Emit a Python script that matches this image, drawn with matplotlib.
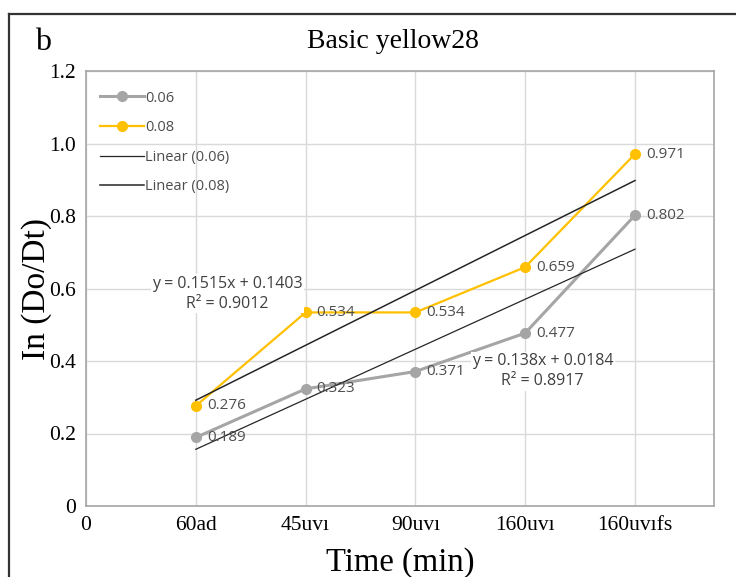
import matplotlib.pyplot as plt
from matplotlib.lines import Line2D

# data
categories = ['0', '60ad', '45uvı', '90uvı', '160uvı', '160uvıfs']
x_pos = [1, 2, 3, 4, 5]
s006 = [0.189, 0.323, 0.371, 0.477, 0.802]
s008 = [0.276, 0.534, 0.534, 0.659, 0.971]
fit006 = (0.138, 0.0184, 0.8917)
fit008 = (0.1515, 0.1403, 0.9012)

serif = 'Liberation Serif'
sans = 'Open Sans'
gray = '#A5A5A5'
orange = '#FFC000'
lbl = '#4D4D4D'

fig = plt.figure(figsize=(7.36, 5.77), dpi=100)
ax = fig.add_axes([86 / 736, 71 / 577, 628 / 736, 435 / 577])

ax.plot(x_pos, s006, color=gray, lw=2.2, marker='o', ms=7, label='0.06', zorder=3)
ax.plot(x_pos, s008, color=orange, lw=1.6, marker='o', ms=7, label='0.08', zorder=3)

x_fit = [x_pos[0], x_pos[-1]]
ax.plot(x_fit, [fit006[0] * x + fit006[1] for x in x_fit], color='#262626', lw=0.9,
        label='Linear (0.06)', zorder=4)
ax.plot(x_fit, [fit008[0] * x + fit008[1] for x in x_fit], color='#262626', lw=1.1,
        label='Linear (0.08)', zorder=4)

# data labels
for xs, ys in [(x_pos, s006), (x_pos, s008)]:
    for x, y in zip(xs, ys):
        ax.annotate(f'{y:.3f}', (x, y), xytext=(8, 0), textcoords='offset points',
                    ha='left', va='center', fontsize=11, color=lbl, family=sans, zorder=5)

# trendline equations
for (m, b, r2), (tx, ty) in [(fit008, (1.29, 0.585)), (fit006, (4.16, 0.372))]:
    ax.text(tx, ty, f'y = {m:g}x + {b:g}\nR² = {r2:g}', ha='center', va='center',
            multialignment='center', fontsize=11.5, color='#404040', family=sans,
            linespacing=1.35, zorder=6,
            bbox=dict(facecolor='white', edgecolor='none', pad=1))

ax.set_xlim(0, 5.72)
ax.set_ylim(0, 1.2)
ax.set_xticks(range(len(categories)))
ax.set_xticklabels(categories, family=serif, fontsize=15.5)
yt = [0, 0.2, 0.4, 0.6, 0.8, 1.0, 1.2]
ax.set_yticks(yt)
ax.set_yticklabels(['0' if v == 0 else f'{v:.1f}' for v in yt], family=serif, fontsize=15.5)
ax.tick_params(length=0, pad=7, colors='black')

ax.grid(True, color='#D9D9D9', lw=1)
ax.set_axisbelow(True)
for sp in ax.spines.values():
    sp.set_color('#A6A6A6')
    sp.set_linewidth(1.2)

ax.set_xlabel('Time (min)', family=serif, fontsize=23.5, labelpad=9)
ax.set_ylabel('In (Do/Dt)', family=serif, fontsize=24, labelpad=-2)

leg = ax.legend(loc='upper left', bbox_to_anchor=(0.022, 0.955), frameon=False,
                prop={'family': sans, 'size': 10.5}, labelcolor=lbl, handlelength=3,
                handletextpad=0.1, labelspacing=1.0, borderaxespad=0, borderpad=0)

fig.text(393 / 736, 1 - 42 / 577, 'Basic yellow28', ha='center', va='center',
         family=serif, fontsize=20)
fig.text(43 / 736, 1 - 42 / 577, 'b', ha='center', va='center', family=serif, fontsize=23)

# outer frame of the panel
fig.add_artist(Line2D([9 / 736, 9 / 736], [0, 1 - 14 / 577], color='#333333', lw=1.6,
                      transform=fig.transFigure))
fig.add_artist(Line2D([9 / 736, 1], [1 - 14 / 577, 1 - 14 / 577], color='#333333', lw=1.6,
                      transform=fig.transFigure))

fig.savefig('out.png', dpi=100)
